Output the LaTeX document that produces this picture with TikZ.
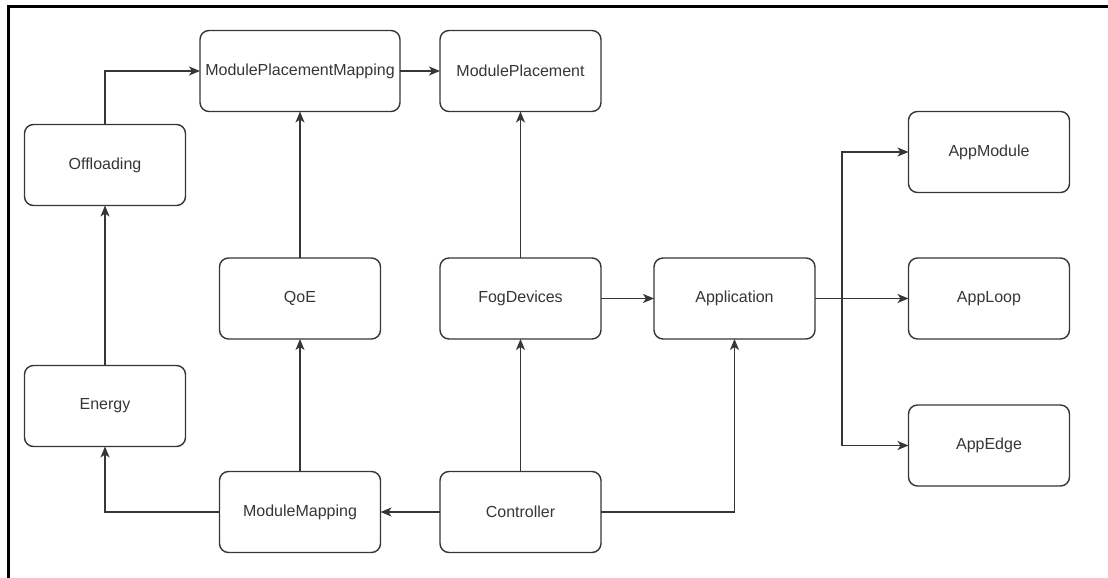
\documentclass[tikz,border=0pt]{standalone}
\usepackage{fontspec}
\setmainfont{Liberation Sans}
\usetikzlibrary{arrows.meta}
\definecolor{ink}{HTML}{363636}
\begin{document}
\begin{tikzpicture}[x=1bp,y=-1bp,
  box/.style={draw=ink, line width=1.4bp, rounded corners=9bp, fill=white,
    minimum width=161bp, minimum height=81bp, inner sep=0pt, outer sep=0pt,
    text=ink, font=\fontsize{16bp}{19bp}\selectfont},
  wide/.style={box, minimum width=200bp},
  arr/.style={draw=ink, line width=1.3bp,
    -{Stealth[length=11bp,width=9bp,inset=3bp]}},
  link/.style={draw=ink, line width=1.3bp}]
\useasboundingbox (0,0) rectangle (1108,578);
% frame on the top and left edges
\draw[black, line width=3bp] (8.8,578) -- (8.8,7) -- (1108,7);

% nodes
\node[wide] (mpm)    at (300,71)     {ModulePlacementMapping};
\node[box]  (mp)     at (520.5,71)   {ModulePlacement};
\node[box]  (off)    at (105,165)    {Offloading};
\node[box]  (qoe)    at (300,298.5)  {QoE};
\node[box]  (fog)    at (520.5,298.5){FogDevices};
\node[box]  (app)    at (734.5,298.5){Application};
\node[box]  (energy) at (105,406)    {Energy};
\node[box]  (mm)     at (300,512)    {ModuleMapping};
\node[box]  (ctrl)   at (520.5,512)  {Controller};
\node[box]  (amod)   at (989,152)    {AppModule};
\node[box]  (aloop)  at (989,298.5)  {AppLoop};
\node[box]  (aedge)  at (989,445.5)  {AppEdge};
\coordinate (br) at (842,298.5);

% connectors
\draw[arr] (off.north) |- (mpm.west);
\draw[arr] (energy) -- (off);
\draw[arr] (mm.west) -| (energy.south);
\draw[arr] (mm) -- (qoe);
\draw[arr] (qoe) -- (mpm);
\draw[arr] (mpm) -- (mp);
\draw[arr] (fog) -- (mp);
\draw[arr] (ctrl) -- (fog);
\draw[arr] (ctrl) -- (mm);
\draw[arr] (fog) -- (app);
\draw[arr] (ctrl.east) -| (app.south);
\draw[link] (app.east) -- (br);
\draw[arr] (br) -- (aloop.west);
\draw[arr] (br) |- (amod.west);
\draw[arr] (br) |- (aedge.west);
\end{tikzpicture}
\end{document}
